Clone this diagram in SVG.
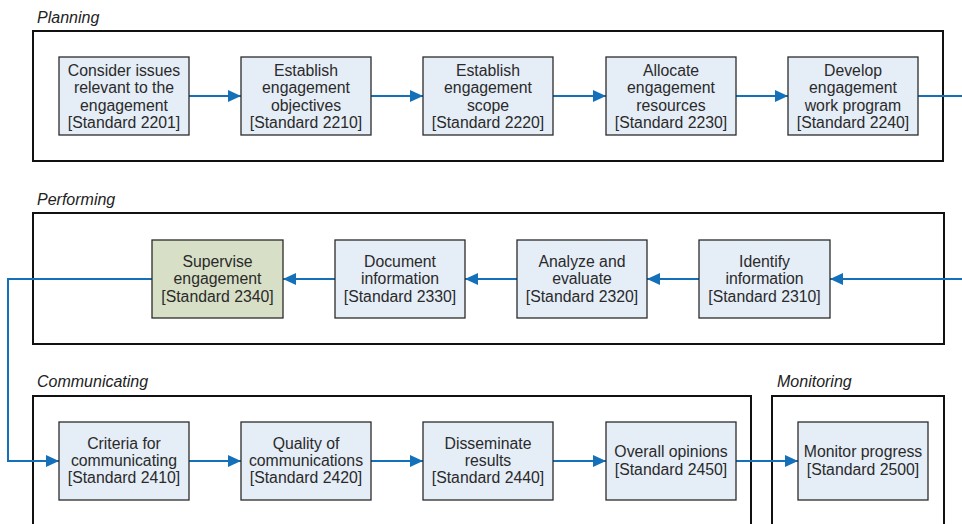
<svg xmlns="http://www.w3.org/2000/svg" width="962" height="524" viewBox="0 0 962 524">
<style>
.frame{fill:none;stroke:#111;stroke-width:2}
.lbl{font-family:"Liberation Sans",Arial,sans-serif;font-size:16px;font-style:italic;fill:#222}
.box{fill:#e5edf7;stroke:#2b2b2b;stroke-width:1.3}
.green{fill:#d7dfc6}
.t{font-family:"Liberation Sans",Arial,sans-serif;font-size:15.8px;fill:#2a2a2a;text-anchor:middle}
.c{fill:none;stroke:#1470b8;stroke-width:2}
</style>
<defs>
<marker id="ah" markerUnits="userSpaceOnUse" markerWidth="14" markerHeight="12" refX="13" refY="6" orient="auto">
<path d="M0,0 L13,6 L0,12 z" fill="#1470b8"/>
</marker>
</defs>

<g id="frames">
<text class="lbl" x="37" y="23">Planning</text>
<rect class="frame" x="33" y="31" width="910" height="130"/>
<text class="lbl" x="37" y="205">Performing</text>
<rect class="frame" x="33" y="213" width="911" height="131"/>
<text class="lbl" x="37" y="387">Communicating</text>
<path class="frame" d="M33,526 V396 H751 V526"/>
<text class="lbl" x="777" y="387">Monitoring</text>
<path class="frame" d="M772,526 V396 H944 V526"/>
</g>

<g id="connectors">
<line class="c" x1="189" y1="96" x2="241" y2="96" marker-end="url(#ah)"/>
<line class="c" x1="371" y1="96" x2="423" y2="96" marker-end="url(#ah)"/>
<line class="c" x1="553" y1="96" x2="606" y2="96" marker-end="url(#ah)"/>
<line class="c" x1="736" y1="96" x2="788" y2="96" marker-end="url(#ah)"/>
<line class="c" x1="918" y1="96" x2="964" y2="96"/>
<line class="c" x1="964" y1="279" x2="830" y2="279" marker-end="url(#ah)"/>
<line class="c" x1="699" y1="279" x2="647" y2="279" marker-end="url(#ah)"/>
<line class="c" x1="517" y1="279" x2="465" y2="279" marker-end="url(#ah)"/>
<line class="c" x1="335" y1="279" x2="283" y2="279" marker-end="url(#ah)"/>
<path class="c" d="M152,279 H8 V461 H59" marker-end="url(#ah)"/>
<line class="c" x1="189" y1="461" x2="241" y2="461" marker-end="url(#ah)"/>
<line class="c" x1="371" y1="461" x2="423" y2="461" marker-end="url(#ah)"/>
<line class="c" x1="553" y1="461" x2="606" y2="461" marker-end="url(#ah)"/>
<line class="c" x1="736" y1="461" x2="798" y2="461" marker-end="url(#ah)"/>
</g>

<g id="n2201"><rect class="box" x="59" y="57" width="130" height="78"/>
<text class="t" x="124" y="76">Consider issues</text><text class="t" x="124" y="93.3">relevant to the</text><text class="t" x="124" y="110.6">engagement</text><text class="t" x="124" y="128">[Standard 2201]</text></g>
<g id="n2210"><rect class="box" x="241" y="57" width="130" height="78"/>
<text class="t" x="306" y="76">Establish</text><text class="t" x="306" y="93.3">engagement</text><text class="t" x="306" y="110.6">objectives</text><text class="t" x="306" y="128">[Standard 2210]</text></g>
<g id="n2220"><rect class="box" x="423" y="57" width="130" height="78"/>
<text class="t" x="488" y="76">Establish</text><text class="t" x="488" y="93.3">engagement</text><text class="t" x="488" y="110.6">scope</text><text class="t" x="488" y="128">[Standard 2220]</text></g>
<g id="n2230"><rect class="box" x="606" y="57" width="130" height="78"/>
<text class="t" x="671" y="76">Allocate</text><text class="t" x="671" y="93.3">engagement</text><text class="t" x="671" y="110.6">resources</text><text class="t" x="671" y="128">[Standard 2230]</text></g>
<g id="n2240"><rect class="box" x="788" y="57" width="130" height="78"/>
<text class="t" x="853" y="76">Develop</text><text class="t" x="853" y="93.3">engagement</text><text class="t" x="853" y="110.6">work program</text><text class="t" x="853" y="128">[Standard 2240]</text></g>

<g id="n2310"><rect class="box" x="699" y="240" width="131" height="78"/>
<text class="t" x="764.5" y="267">Identify</text><text class="t" x="764.5" y="284.3">information</text><text class="t" x="764.5" y="301.6">[Standard 2310]</text></g>
<g id="n2320"><rect class="box" x="517" y="240" width="130" height="78"/>
<text class="t" x="582" y="267">Analyze and</text><text class="t" x="582" y="284.3">evaluate</text><text class="t" x="582" y="301.6">[Standard 2320]</text></g>
<g id="n2330"><rect class="box" x="335" y="240" width="130" height="78"/>
<text class="t" x="400" y="267">Document</text><text class="t" x="400" y="284.3">information</text><text class="t" x="400" y="301.6">[Standard 2330]</text></g>
<g id="n2340"><rect class="box green" x="152" y="240" width="131" height="78"/>
<text class="t" x="217.5" y="267">Supervise</text><text class="t" x="217.5" y="284.3">engagement</text><text class="t" x="217.5" y="301.6">[Standard 2340]</text></g>

<g id="n2410"><rect class="box" x="59" y="422" width="130" height="78"/>
<text class="t" x="124" y="448.5">Criteria for</text><text class="t" x="124" y="465.8">communicating</text><text class="t" x="124" y="483.1">[Standard 2410]</text></g>
<g id="n2420"><rect class="box" x="241" y="422" width="130" height="78"/>
<text class="t" x="306" y="448.5">Quality of</text><text class="t" x="306" y="465.8">communications</text><text class="t" x="306" y="483.1">[Standard 2420]</text></g>
<g id="n2440"><rect class="box" x="423" y="422" width="130" height="78"/>
<text class="t" x="488" y="448.5">Disseminate</text><text class="t" x="488" y="465.8">results</text><text class="t" x="488" y="483.1">[Standard 2440]</text></g>
<g id="n2450"><rect class="box" x="606" y="422" width="130" height="78"/>
<text class="t" x="671" y="457.3">Overall opinions</text><text class="t" x="671" y="474.6">[Standard 2450]</text></g>
<g id="n2500"><rect class="box" x="798" y="422" width="130" height="78"/>
<text class="t" x="863" y="457.3">Monitor progress</text><text class="t" x="863" y="474.6">[Standard 2500]</text></g>
</svg>
